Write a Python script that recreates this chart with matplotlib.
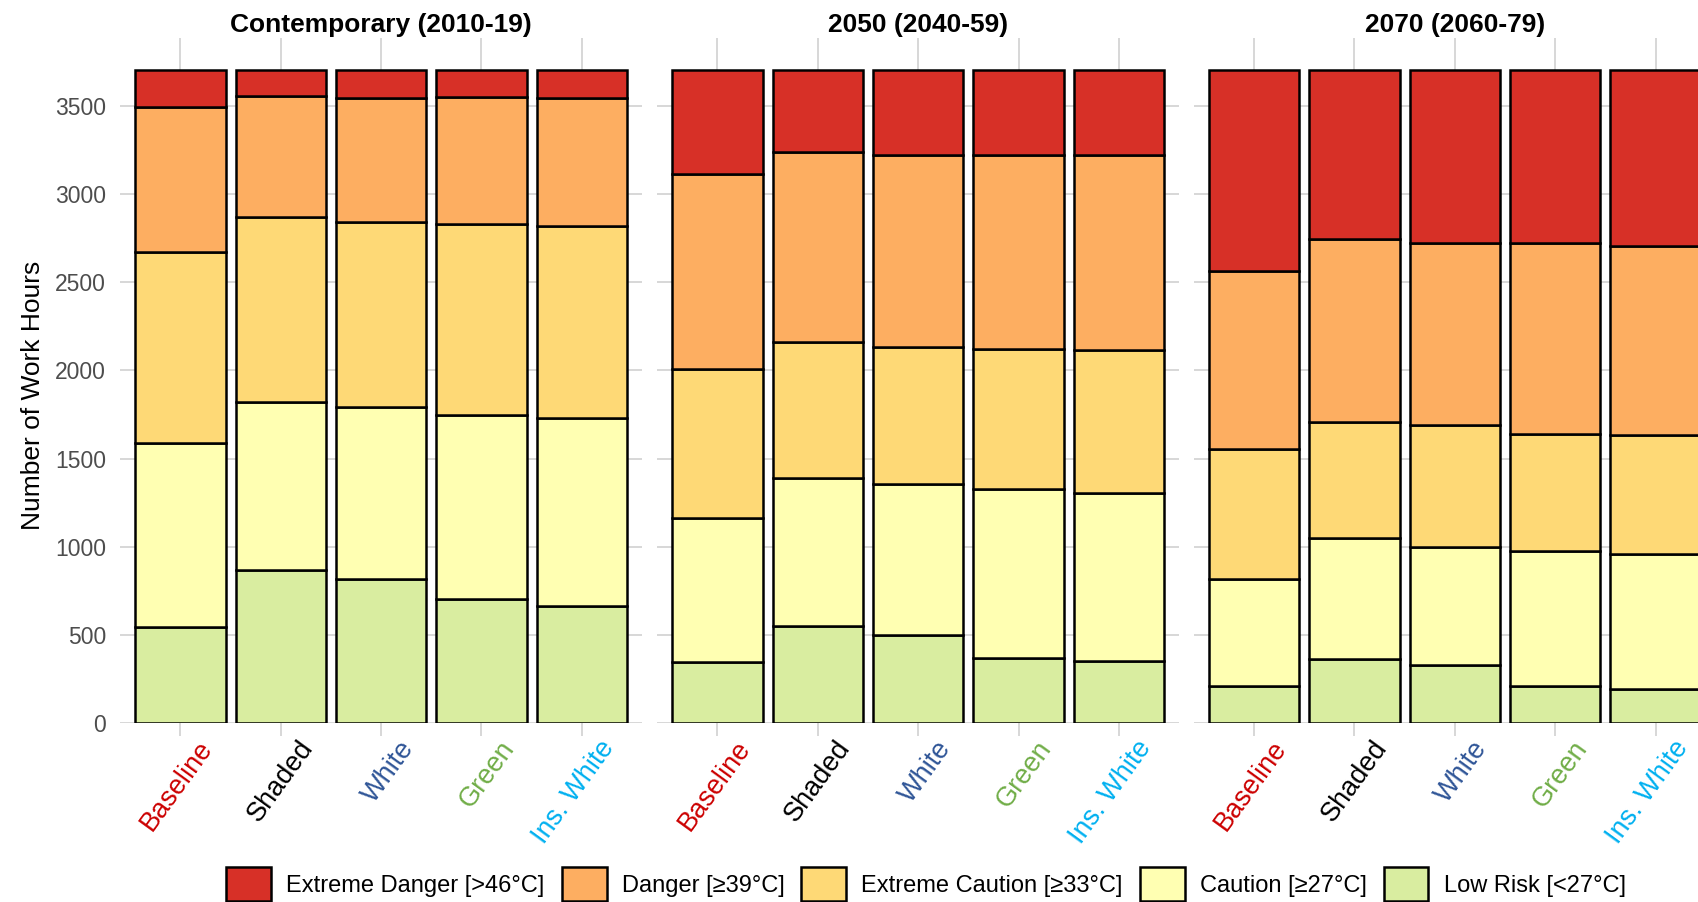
import matplotlib
matplotlib.use("Agg")
import matplotlib.pyplot as plt
import matplotlib.transforms as mtransforms
from matplotlib.patches import Patch
import numpy as np

plt.rcParams["font.family"] = ["Liberation Sans", "DejaVu Sans"]

# --- data -------------------------------------------------------------
scenarios = ["Baseline", "Shaded", "White", "Green", "Ins. White"]
scenario_colors = ["#CC0000", "#000000", "#2F5597", "#70AD47", "#00B0F0"]
periods = ["Contemporary (2010-19)", "2050 (2040-59)", "2070 (2060-79)"]

risk_levels = ["Extreme Danger [>46°C]", "Danger [≥39°C]",
               "Extreme Caution [≥33°C]", "Caution [≥27°C]", "Low Risk [<27°C]"]
risk_colors = ["#D73027", "#FDAE61", "#FED976", "#FFFFB2", "#D9EDA0"]

# work hours per scenario, stacked from Low Risk (bottom) up to Extreme Danger
contemporary_low_risk = [547, 869, 816, 704, 665]
contemporary_caution = [1043, 954, 978, 1041, 1067]
contemporary_ext_caution = [1083, 1045, 1045, 1083, 1088]
contemporary_danger = [820, 687, 703, 720, 725]
contemporary_ext_danger = [207, 145, 158, 152, 155]

y2050_low_risk = [346, 551, 499, 370, 351]
y2050_caution = [815, 841, 857, 956, 952]
y2050_ext_caution = [845, 767, 778, 793, 812]
y2050_danger = [1105, 1077, 1088, 1103, 1104]
y2050_ext_danger = [589, 464, 478, 478, 481]

y2070_low_risk = [213, 363, 332, 213, 194]
y2070_caution = [605, 685, 667, 762, 765]
y2070_ext_caution = [739, 658, 690, 665, 673]
y2070_danger = [1008, 1039, 1031, 1080, 1075]
y2070_ext_danger = [1135, 955, 980, 980, 993]

y_ticks = [0, 500, 1000, 1500, 2000, 2500, 3000, 3500]

# order: top of legend first, stacks drawn bottom-up
period_data = [
    [contemporary_ext_danger, contemporary_danger, contemporary_ext_caution,
     contemporary_caution, contemporary_low_risk],
    [y2050_ext_danger, y2050_danger, y2050_ext_caution, y2050_caution, y2050_low_risk],
    [y2070_ext_danger, y2070_danger, y2070_ext_caution, y2070_caution, y2070_low_risk],
]

# --- figure -----------------------------------------------------------
W, H = 1698, 902
DPI = 100
fig = plt.figure(figsize=(W / DPI, H / DPI), dpi=DPI)

grid_col = "#D4D4D4"
panel_lefts = [120.1, 657.2, 1193.8]
panel_w = 522.0
ax_bottom = (H - 723.3) / H
ax_height = (723.3 - 37.7) / H

x = np.arange(1, len(scenarios) + 1)
ymax = 3700 * 1.05

for p, (title, layers) in enumerate(zip(periods, period_data)):
    ax = fig.add_axes([panel_lefts[p] / W, ax_bottom, panel_w / W, ax_height])
    bottom = np.zeros(len(scenarios))
    for vals, col in zip(layers[::-1], risk_colors[::-1]):
        vals = np.asarray(vals, dtype=float)
        ax.bar(x, vals, bottom=bottom, width=0.9, color=col,
               edgecolor="black", linewidth=1.8, zorder=3)
        bottom += vals

    ax.set_xlim(0.4, len(scenarios) + 0.6)
    ax.set_ylim(0, ymax)
    for s in ax.spines.values():
        s.set_visible(False)
    ax.set_axisbelow(True)
    ax.grid(True, color=grid_col, linewidth=1.3, zorder=0)

    ax.set_yticks(y_ticks)
    if p == 0:
        ax.set_yticklabels([str(t) for t in y_ticks])
    else:
        ax.set_yticklabels([])
    ax.tick_params(axis="y", length=0, pad=10, labelsize=16.5, labelcolor="#4D4D4D")

    ax.set_xticks(x)
    ax.tick_params(axis="x", length=9, width=1.3, color=grid_col, labelbottom=False)

    # rotated, coloured scenario labels hanging below each tick
    base = mtransforms.blended_transform_factory(ax.transData, ax.transAxes)
    shift = mtransforms.ScaledTranslation(17 / DPI, -12.5 / DPI, fig.dpi_scale_trans)
    for xi, name, col in zip(x, scenarios, scenario_colors):
        ax.text(xi, 0, name, transform=base + shift, color=col, fontsize=19.5,
                rotation=54, ha="right", va="top", rotation_mode="anchor",
                clip_on=False)

    ax.set_title(title, fontsize=19, fontweight="bold", pad=4.3)

fig.text(33 / W, 1 - 395 / H, "Number of Work Hours", rotation=90,
         ha="center", va="center", fontsize=19)

handles = [Patch(facecolor=c, edgecolor="black", linewidth=1.8, label=l)
           for c, l in zip(risk_colors, risk_levels)]
fig.legend(handles=handles, loc="center", bbox_to_anchor=(926 / W, 18 / H),
           ncol=5, frameon=False, fontsize=17, handlelength=1.9, handleheight=1.9,
           handletextpad=0.64, columnspacing=0.72, borderaxespad=0, borderpad=0)

fig.savefig("out.png", dpi=DPI)
